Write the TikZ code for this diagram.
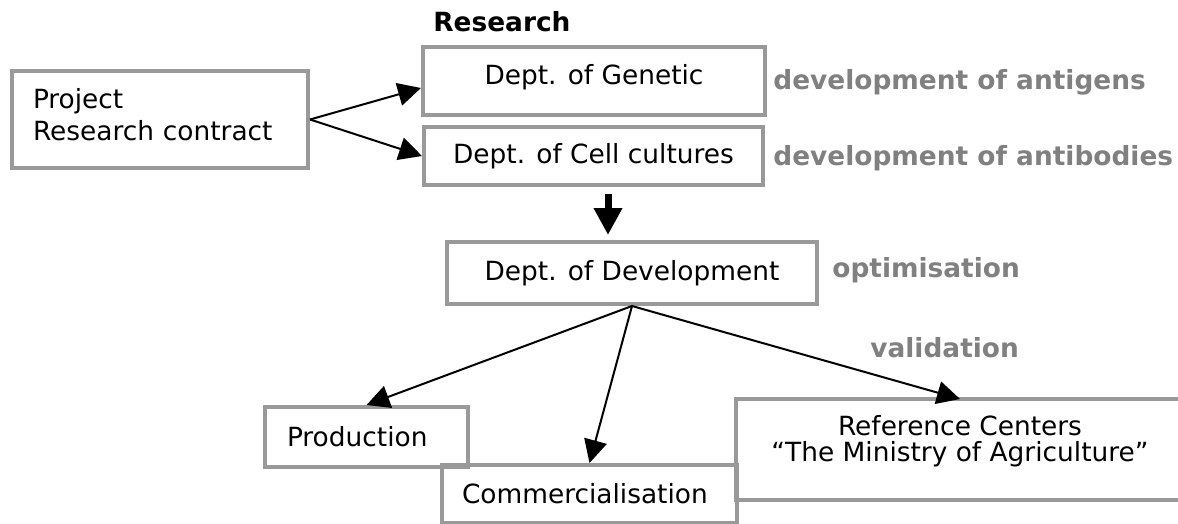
\documentclass[tikz,border=0pt]{standalone}
\usepackage{fontspec}
\setmainfont{DejaVu Sans}
\usetikzlibrary{arrows.meta}
\definecolor{boxgray}{HTML}{999999}
\definecolor{notegray}{HTML}{808080}
\tikzset{
	dept/.style={draw=boxgray,line width=2pt,rectangle,inner sep=0pt,font=\fontsize{13.2}{16}\selectfont},
	note/.style={text=notegray,anchor=west,inner sep=0pt,font=\fontsize{13.2}{16}\selectfont\bfseries},
	arr/.style={-{Triangle[length=11.5pt,width=11.5pt]},line width=1pt},
	bigarr/.style={-{Triangle[length=13.5pt,width=13.5pt]},line width=3.5pt}
}
\begin{document}
\begin{tikzpicture}[x=0.5pt,y=-0.5pt]
	%\draw[thin,color=gray!20](0,0)grid[step=50](1178,524);
	\useasboundingbox (0,0) rectangle (1178,524);
	\node[dept,minimum width=148pt,minimum height=48.5pt,text width=127pt,align=left,text depth=21pt] (proj) at (160,119.5) {Project\\Research contract};
	\node[dept,minimum width=171pt,minimum height=34pt,text depth=7pt] (gen) at (594,81) {Dept. of Genetic};
	\node[dept,minimum width=169.5pt,minimum height=29pt] (cell) at (593.5,156) {Dept. of Cell cultures};
	\node[dept,minimum width=185pt,minimum height=31pt] (dev) at (632,273) {Dept. of Development};
	\node[dept,minimum width=101.5pt,minimum height=30pt,text width=79.5pt,align=left] (prod) at (366.5,437) {Production};
	\node[dept,minimum width=147.5pt,minimum height=29pt,text width=127.5pt,align=left] (comm) at (589.5,494) {Commercialisation};
	\node[dept,draw=none,minimum width=222pt,minimum height=48.5pt,align=center,text depth=11pt,font=\fontsize{13.2}{12.8}\selectfont] (ref) at (960,449.5) {Reference Centers\\“The Ministry of Agriculture”};
	\draw[boxgray,line width=2pt] (ref.north east)--(ref.north west)--(ref.south west)--(ref.south east);
	\node[anchor=west,inner sep=0pt,font=\fontsize{13.2}{16}\selectfont\bfseries] (research) at (433,22) {Research};
	\node[note] (antigens) at (773,82) {development of antigens};
	\node[note] (antibodies) at (773,158) {development of antibodies};
	\node[note] (optim) at (832,270) {optimisation};
	\node[note] (valid) at (870,348) {validation};
	\draw[arr] (proj.east)--([yshift=-3.5pt]gen.west);
	\draw[arr] (proj.east)--(cell.west);
	\draw[bigarr] ([xshift=7.25pt,yshift=-3.5pt]cell.south)--([xshift=-12pt,yshift=2.5pt]dev.north);
	\draw[arr] (dev.south)--(prod.north);
	\draw[arr] (dev.south)--(comm.north);
	\draw[arr] (dev.south)--(ref.north);
\end{tikzpicture}
\end{document}
